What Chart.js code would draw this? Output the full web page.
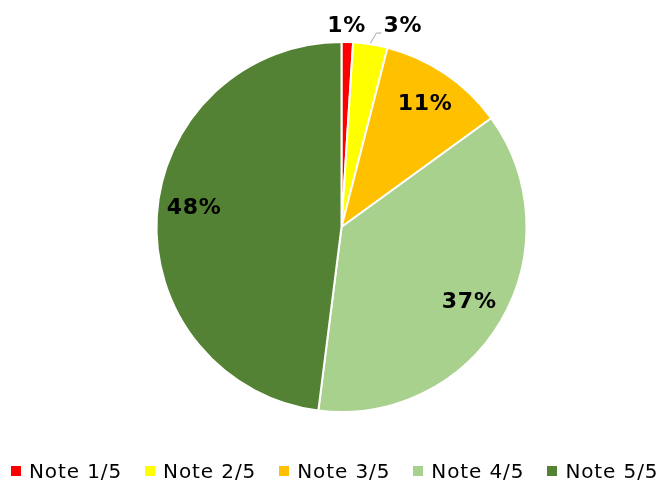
<!DOCTYPE html>
<html>
<head>
<meta charset="utf-8">
<script src="https://cdn.jsdelivr.net/npm/chart.js@4/dist/chart.umd.min.js"></script>
<style>
  html, body { margin: 0; padding: 0; background: #fff; }
  #wrap { position: relative; width: 661px; height: 481px; }
  #pie { position: absolute; left: 0; top: 0; }
  #legend {
    position: absolute; left: 11px; top: 460px;
    display: flex; gap: 23px;
    font: 20px "DejaVu Sans", Verdana, sans-serif;
    letter-spacing: 0.9px; line-height: 22px; color: #000;
  }
  .item { display: flex; align-items: center; white-space: nowrap; }
  .box { width: 10px; height: 10px; margin-right: 8px; }
</style>
</head>
<body>
<div id="wrap">
  <canvas id="pie" width="661" height="481"></canvas>
  <div id="legend"></div>
</div>
<script>
// ---------- données ----------
var categories = ["Note 1/5", "Note 2/5", "Note 3/5", "Note 4/5", "Note 5/5"];
var shares = [1, 3, 11, 37, 48];
var colors = ["#FF0000", "#FFFF00", "#FFC000", "#A9D18E", "#548235"];

// ---------- légende ----------
var legend = document.getElementById("legend");
categories.forEach(function(c, i) {
    legend.innerHTML +=
        '<span class="item"><span class="box" style="background:' + colors[i] + '"></span>' + c + '</span>';
});

// ---------- étiquettes de pourcentage ----------
// petites parts : étiquette au-dessus du bord, avec trait de rappel si besoin
var outside = { 0: { leader: false }, 1: { leader: true } };
// décalage vertical de certaines étiquettes internes
var nudgeY = { 4: -9 };
var spacing = 0.7;

var pieLabels = {
    id: "pieLabels",
    afterDatasetsDraw: function(chart) {
        var ctx = chart.ctx;
        var meta = chart.getDatasetMeta(0);
        ctx.save();
        ctx.font = 'bold 22px "DejaVu Sans", Verdana, sans-serif';
        ctx.letterSpacing = spacing + "px";
        ctx.fillStyle = "#000";
        ctx.textBaseline = "middle";
        ctx.textAlign = "left";
        meta.data.forEach(function(arc, i) {
            var p = arc.getProps(["x", "y", "startAngle", "endAngle", "outerRadius"], true);
            var mid = (p.startAngle + p.endAngle) / 2;
            var text = shares[i] + "%";
            var w = ctx.measureText(text).width - spacing;
            if (outside[i]) {
                var ax = p.x + Math.cos(mid) * p.outerRadius;
                var ay = p.y + Math.sin(mid) * p.outerRadius;
                var ly = p.y - p.outerRadius - 16;
                if (outside[i].leader) {
                    ctx.strokeStyle = "#A6A6A6";
                    ctx.lineWidth = 1;
                    ctx.beginPath();
                    ctx.moveTo(ax, ay - 1);
                    ctx.lineTo(ax + 6, ly + 7);
                    ctx.lineTo(ax + 11, ly + 7);
                    ctx.stroke();
                    ctx.fillText(text, ax + 13, ly);
                } else {
                    ctx.fillText(text, ax - 1 - w / 2, ly);
                }
            } else {
                var r = p.outerRadius * 0.8;
                var dy = nudgeY[i] || 0;
                ctx.fillText(text, p.x + Math.cos(mid) * r - w / 2, p.y + Math.sin(mid) * r + dy);
            }
        });
        ctx.restore();
    }
};

// ---------- graphique ----------
var ctx = document.getElementById("pie").getContext("2d");
new Chart(ctx, {
    type: "pie",
    data: {
        labels: categories,
        datasets: [{
            data: shares,
            backgroundColor: colors,
            borderColor: "#FFFFFF",
            borderWidth: 2,
            radius: 185
        }]
    },
    options: {
        responsive: false,
        animation: false,
        layout: { padding: { left: 22, right: 0, top: 0, bottom: 27 } },
        plugins: {
            legend: { display: false },
            tooltip: { enabled: false }
        }
    },
    plugins: [pieLabels]
});
</script>
</body>
</html>
